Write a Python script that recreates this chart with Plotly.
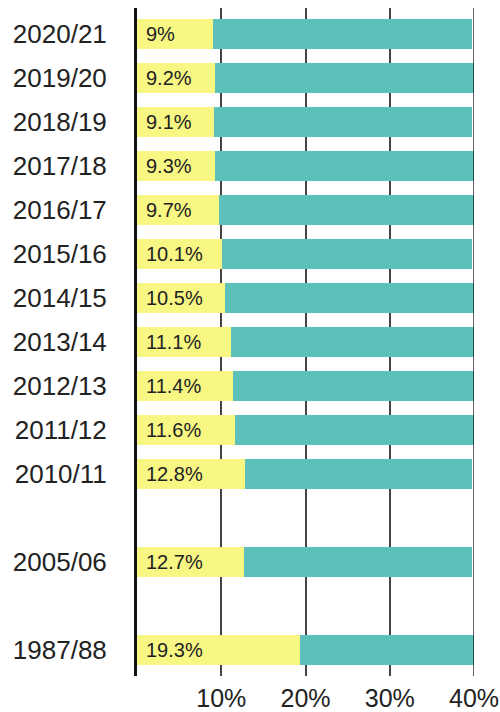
import plotly.graph_objects as go

years = ["2020/21", "2019/20", "2018/19", "2017/18", "2016/17", "2015/16",
         "2014/15", "2013/14", "2012/13", "2011/12", "2010/11", "2005/06", "1987/88"]
positions = [0, 1, 2, 3, 4, 5, 6, 7, 8, 9, 10, 12, 14]
share = [9.0, 9.2, 9.1, 9.3, 9.7, 10.1, 10.5, 11.1, 11.4, 11.6, 12.8, 12.7, 19.3]
share_labels = ["9%", "9.2%", "9.1%", "9.3%", "9.7%", "10.1%", "10.5%", "11.1%",
                "11.4%", "11.6%", "12.8%", "12.7%", "19.3%"]
bar_total = [39.8, 40, 39.8, 40, 40, 39.8, 40, 40, 40, 40, 39.8, 39.8, 40]
remainder = [t - s for t, s in zip(bar_total, share)]

x_ticks = [10, 20, 30, 40]
x_tick_labels = ["10%", "20%", "30%", "40%"]

YELLOW = "#F8F784"
TEAL = "#5DC0BA"
FONT = "Liberation Sans, Arial, sans-serif"

fig = go.Figure()
fig.add_trace(go.Bar(y=positions, x=share, orientation="h", marker_color=YELLOW,
                     marker_line_width=0, width=0.68, hoverinfo="skip"))
fig.add_trace(go.Bar(y=positions, x=remainder, orientation="h", marker_color=TEAL,
                     marker_line_width=0, width=0.68, hoverinfo="skip"))

for p, lab in zip(positions, share_labels):
    fig.add_annotation(x=0, y=p, text=lab, xanchor="left", yanchor="middle",
                       xshift=7, showarrow=False,
                       font=dict(family=FONT, size=20, color="#222222"))

# right border line at 40%
fig.add_shape(type="line", x0=40, x1=40, y0=0, y1=1, yref="paper",
              line=dict(color="#000000", width=1.2), layer="above")

fig.update_layout(
    barmode="stack",
    width=500, height=712,
    margin=dict(l=137, r=26, t=8, b=36, autoexpand=False),
    paper_bgcolor="white", plot_bgcolor="white",
    showlegend=False,
    font=dict(family=FONT, color="#222222"),
    xaxis=dict(range=[0, 40], tickvals=x_ticks, ticktext=x_tick_labels,
               showgrid=True, gridcolor="#444444", gridwidth=1.5,
               zeroline=False, showline=False, ticks="", automargin=False,
               ticklabelstandoff=5,
               tickfont=dict(family=FONT, size=25, color="#222222"), fixedrange=True),
    yaxis=dict(range=[14.6, -0.6], tickvals=positions, ticktext=years,
               showgrid=False, zeroline=False, automargin=False,
               showline=True, linecolor="#111111", linewidth=3,
               ticks="", ticklabelstandoff=22,
               tickfont=dict(family=FONT, size=26, color="#222222"), fixedrange=True),
)

fig.write_html("out.html", config={"displayModeBar": False},
               post_script="document.body.style.margin='0';document.body.style.overflow='hidden';")
